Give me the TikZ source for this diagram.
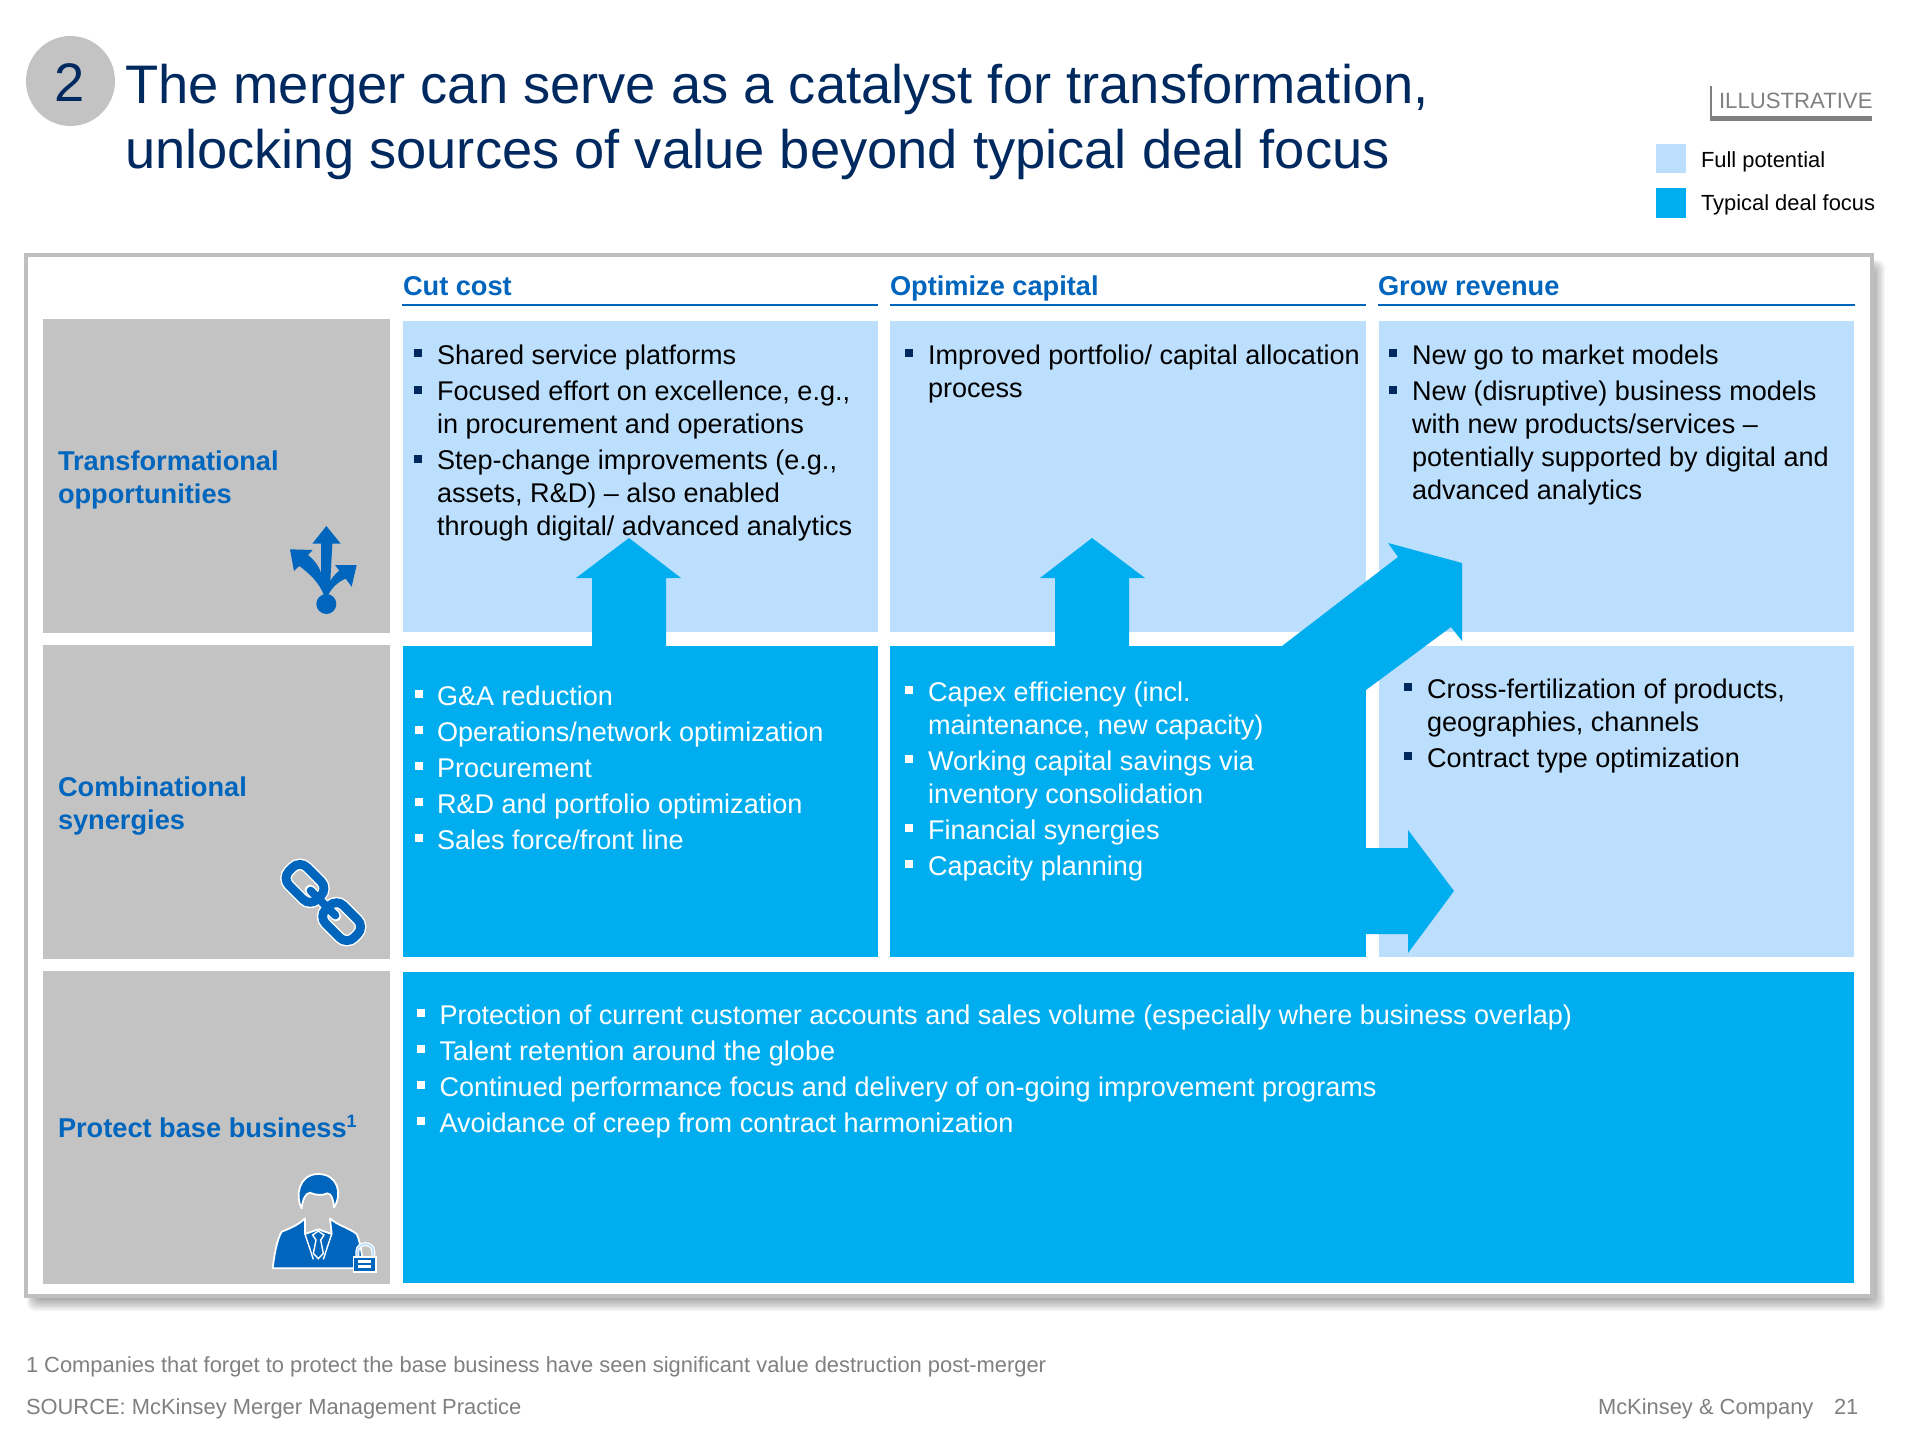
\documentclass[tikz,border=0pt]{standalone}
\usepackage{fontspec}
\setmainfont{Liberation Sans}
\definecolor{dark}{HTML}{00AEEF}
\definecolor{light}{HTML}{BDDFFE}
\definecolor{grayb}{HTML}{C3C3C3}
\definecolor{frameg}{HTML}{BFBFBF}
\definecolor{blu}{HTML}{0065BD}
\definecolor{navy}{HTML}{002960}
\definecolor{foot}{HTML}{808080}
\tikzset{
 base/.style={anchor=base west,inner sep=0pt,outer sep=0pt},
 body/.style={base,font=\fontsize{13.53}{16}\selectfont,text=black},
 wbody/.style={base,font=\fontsize{13.53}{16}\selectfont,text=white},
 head/.style={base,font=\fontsize{13.6}{16}\selectfont\bfseries,text=blu},
 title/.style={base,font=\fontsize{27.15}{32}\selectfont,text=navy},
 small/.style={base,font=\fontsize{10.95}{13}\selectfont,text=black},
 foottxt/.style={base,font=\fontsize{10.95}{13}\selectfont,text=foot},
 icon/.style={fill=blu,draw=white,line width=0.9pt,line join=round},
}
\newcommand\bk[3]{\fill[#1] (#2-0.01,#3-15) rectangle (#2+8,#3-7);}
\newcommand\bw[2]{\bk{white}{#1}{#2}}
\newcommand\bn[2]{\bk{navy}{#1}{#2}}
\begin{document}
\begin{tikzpicture}[x=0.5pt,y=-0.5pt]
\useasboundingbox (0,0) rectangle (1920,1439);
\fill[white] (0,0) rectangle (1920,1439);
% title
\fill[grayb] (70.5,81) ellipse [x radius=44.5,y radius=45];
\node[title,anchor=base] (num) at (69.5,102) {2};
\node[title] (t1) at (125,104) {The merger can serve as a catalyst for transformation,};
\node[title] (t2) at (125,169) {unlocking sources of value beyond typical deal focus};
% illustrative
\fill[foot] (1710,86) rectangle (1712,121);
\fill[foot] (1710,116) rectangle (1872,121);
\node[base,font=\fontsize{11.08}{13}\selectfont,text=foot] (ill) at (1719,109) {ILLUSTRATIVE};
% legend
\fill[light] (1656,144) rectangle (1686,173);
\fill[dark] (1656,188) rectangle (1686,218);
\node[small] (lg1) at (1701,167.5) {Full potential};
\node[small] (lg2) at (1701,211) {Typical deal focus};
% frame with shadow
\foreach \i in {0,1,...,9} {
 \fill[black,opacity=0.04,rounded corners=4] (27+\i,260+\i) rectangle (1885-1.4*\i,1311-1.4*\i);
}
\draw[frameg,fill=white,line width=2pt] (26,255) rectangle (1872,1296);
% headers
\node[head] (h1) at (403,295) {Cut cost};
\node[head] (h2) at (890,295) {Optimize capital};
\node[head] (h3) at (1378,295) {Grow revenue};
\fill[blu] (402,304) rectangle (878,306);
\fill[blu] (890,304) rectangle (1366,306);
\fill[blu] (1378,304) rectangle (1855,306);
% row labels background
\fill[grayb] (43,319) rectangle (390,633);
\fill[grayb] (43,645) rectangle (390,959);
\fill[grayb] (43,971) rectangle (390,1284);
% cells
\fill[light] (403,321) rectangle (878,632);
\fill[light] (890,321) rectangle (1366,632);
\fill[light] (1379,321) rectangle (1854,632);
\fill[dark] (403,646) rectangle (878,957);
\fill[dark] (890,646) rectangle (1366,957);
\fill[light] (1379,646) rectangle (1854,957);
\fill[dark] (403,972) rectangle (1854,1283);
% block arrows
\fill[dark] (592,650) -- (592,578) -- (576,578) -- (629,538) -- (681,578) -- (666,578) -- (666,650) -- cycle;
\fill[dark] (1055,650) -- (1055,578) -- (1040,578) -- (1092,538) -- (1145,578) -- (1129,578) -- (1129,650) -- cycle;
\fill[dark] (1282,646) -- (1398,557) -- (1388,543) -- (1462,563) -- (1462,641) -- (1451,627) -- (1366,690) -- (1360,690) -- (1360,646) -- cycle;
\fill[dark] (1360,848) -- (1408,848) -- (1408,830) -- (1454,891) -- (1408,953) -- (1408,934) -- (1360,934) -- cycle;
% row labels
\node[head] (r1a) at (58,470) {Transformational};
\node[head] (r1b) at (58,503) {opportunities};
\node[head] (r2a) at (58,796) {Combinational};
\node[head] (r2b) at (58,829) {synergies};
\node[head] (r3a) at (58,1137) {Protect base business\raisebox{0.36em}{\fontsize{9}{10}\selectfont\bfseries 1}};
% cell text row1
\bn{414}{364}\bn{414}{400.5}\bn{414}{469.5}
\node[body] (a1) at (437,364.5) {Shared service platforms};
\node[body] (a2) at (437,400.5) {Focused effort on excellence, e.g.,};
\node[body] (a3) at (437,433) {in procurement and operations};
\node[body] (a4) at (437,469.5) {Step-change improvements (e.g.,};
\node[body] (a5) at (437,502) {assets, R\&D) – also enabled};
\node[body] (a6) at (437,535) {through digital/ advanced analytics};
\bn{905}{364}
\node[body] (b1) at (928,364.5) {Improved portfolio/ capital allocation};
\node[body] (b2) at (928,397.5) {process};
\bn{1389}{364}\bn{1389}{400.5}
\node[body] (c1) at (1412,364.5) {New go to market models};
\node[body] (c2) at (1412,400.5) {New (disruptive) business models};
\node[body] (c3) at (1412,433) {with new products/services –};
\node[body] (c4) at (1412,466) {potentially supported by digital and};
\node[body] (c5) at (1412,499) {advanced analytics};
% row2
\bw{415}{705}\bw{415}{741}\bw{415}{777}\bw{415}{813}\bw{415}{849}
\node[wbody] (d1) at (437,705) {G\&A reduction};
\node[wbody] (d2) at (437,741) {Operations/network optimization};
\node[wbody] (d3) at (437,777) {Procurement};
\node[wbody] (d4) at (437,813) {R\&D and portfolio optimization};
\node[wbody] (d5) at (437,849) {Sales force/front line};
\bw{905}{701}\bw{905}{770}\bw{905}{839}\bw{905}{875}
\node[wbody] (e1) at (928,701) {Capex efficiency (incl.};
\node[wbody] (e2) at (928,734) {maintenance, new capacity)};
\node[wbody] (e3) at (928,770) {Working capital savings via};
\node[wbody] (e4) at (928,803) {inventory consolidation};
\node[wbody] (e5) at (928,839) {Financial synergies};
\node[wbody] (e6) at (928,875) {Capacity planning};
\bn{1404}{698}\bn{1404}{767}
\node[body] (f1) at (1427,698) {Cross-fertilization of products,};
\node[body] (f2) at (1427,731.5) {geographies, channels};
\node[body] (f3) at (1427,767) {Contract type optimization};
% row3
\bw{417}{1024}\bw{417}{1060}\bw{417}{1096}\bw{417}{1132}
\node[wbody] (g1) at (439.5,1024) {Protection of current customer accounts and sales volume (especially where business overlap)};
\node[wbody] (g2) at (439.5,1060) {Talent retention around the globe};
\node[wbody] (g3) at (439.5,1096) {Continued performance focus and delivery of on-going improvement programs};
\node[wbody] (g4) at (439.5,1132) {Avoidance of creep from contract harmonization};
% footer
\node[foottxt] (n1) at (26,1372) {1 Companies that forget to protect the base business have seen significant value destruction post-merger};
\node[foottxt] (n2) at (26,1414) {SOURCE: McKinsey Merger Management Practice};
\node[foottxt] (n3) at (1598,1414) {McKinsey \& Company};
\node[foottxt] (n4) at (1834,1414) {21};
% icon: branching arrows
\begin{scope}[shift={(250,500)},scale=1/3]
\fill[blu] (229,78) -- (272,131) -- (247,131) -- (240,260) -- (232,290) -- (225,290) -- (213,225) -- (213,131) -- (187,131) -- cycle;
\fill[blu] (120,148) -- (188,150) -- (174,165) .. controls (198,185) and (212,205) .. (217,235) -- (232,300) -- (222,285) .. controls (205,245) and (180,222) .. (148,198) -- (132,213) -- cycle;
\fill[blu] (320,195) -- (305,260) -- (287,236) .. controls (265,245) and (245,262) .. (232,290) -- (236,250) .. controls (245,235) and (255,222) .. (268,212) -- (255,195) -- cycle;
\fill[blu] (229,312) circle (30);
\end{scope}
% icon: chain
\begin{scope}[shift={(250,840)},scale=1/3]
\begin{scope}[shift={(165,130)},rotate=-45]
\draw[white,line width=5.8pt,rounded corners=5pt] (-60,-38) rectangle (60,38);
\end{scope}
\begin{scope}[shift={(275,245)},rotate=-45]
\draw[white,line width=5.8pt,rounded corners=5pt] (-60,-38) rectangle (60,38);
\end{scope}
\draw[white,line width=5.4pt,line cap=round] (180,150) -- (258,228);
\begin{scope}[shift={(165,130)},rotate=-45]
\draw[blu,line width=4.4pt,rounded corners=5pt] (-60,-38) rectangle (60,38);
\end{scope}
\begin{scope}[shift={(275,245)},rotate=-45]
\draw[blu,line width=4.4pt,rounded corners=5pt] (-60,-38) rectangle (60,38);
\end{scope}
\draw[blu,line width=4pt,line cap=round] (182,152) -- (256,226);
\end{scope}
% icon: person
\begin{scope}[shift={(250,1160)},scale=1/3]
\draw[icon] (155,145) .. controls (135,110) and (145,42) .. (205,42) .. controls (265,42) and (278,105) .. (252,142) .. controls (250,120) and (245,100) .. (232,100) .. controls (215,108) and (195,105) .. (180,98) .. controls (165,100) and (158,120) .. (155,145) -- cycle;
\draw[icon] (68,325) .. controls (72,290) and (80,240) .. (95,215) .. controls (120,205) and (145,195) .. (165,175) -- (165,222) -- (205,208) -- (245,222) -- (240,175) .. controls (260,195) and (300,205) .. (320,222) .. controls (328,240) and (335,265) .. (340,325) -- cycle;
\draw[white,line width=0.7pt] (165,222) -- (190,298) (245,222) -- (220,298);
\draw[white,line width=0.7pt,fill=blu] (205,213) -- (222,225) -- (212,240) -- (220,280) -- (205,296) -- (190,280) -- (198,240) -- (188,225) -- cycle;
\draw[white,line width=2pt] (322,290) -- (322,275) .. controls (322,245) and (370,245) .. (370,275) -- (370,290);
\draw[light,line width=0.9pt] (322,290) -- (322,275) .. controls (322,245) and (370,245) .. (370,275) -- (370,290);
\fill[white] (308,288) rectangle (380,338);
\fill[blu] (313,293) rectangle (375,333);
\fill[white] (325,300) rectangle (363,308);
\fill[white] (325,316) rectangle (363,324);
\end{scope}
\end{tikzpicture}
\end{document}
